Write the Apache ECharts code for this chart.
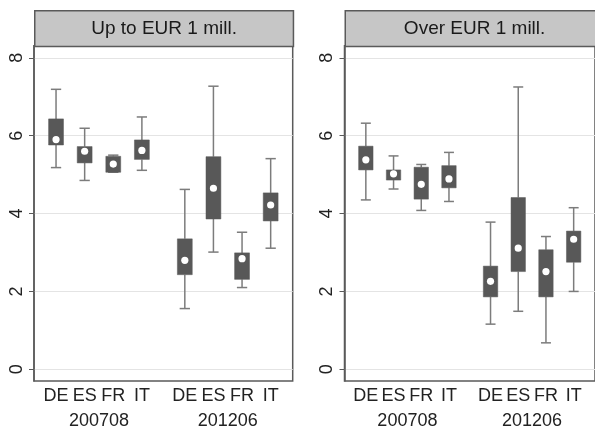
<!DOCTYPE html>
<html>
<head>
<meta charset="utf-8">
<script src="https://cdn.jsdelivr.net/npm/echarts@6/dist/echarts.min.js"></script>
<style>
html,body{margin:0;padding:0;background:#fff;}
#chart{width:595px;height:430px;}
</style>
</head>
<body>
<div id="chart"></div>
<script>
// ---- data ----
const countries = ['DE', 'ES', 'FR', 'IT'];
const periods = ['200708', '201206'];
const panelTitles = ['Up to EUR 1 mill.', 'Over EUR 1 mill.'];
const yTicks = [0, 2, 4, 6, 8];

// order: 200708 DE ES FR IT, 201206 DE ES FR IT
const small_min = [5.18, 4.85, 5.06, 5.11, 1.56, 3.01, 2.10, 3.11];
const small_q1  = [5.76, 5.30, 5.06, 5.39, 2.43, 3.86, 2.31, 3.81];
const small_med = [5.90, 5.60, 5.27, 5.62, 2.80, 4.65, 2.84, 4.22];
const small_q3  = [6.43, 5.72, 5.47, 5.89, 3.35, 5.46, 2.99, 4.53];
const small_max = [7.19, 6.19, 5.50, 6.48, 4.62, 7.27, 3.52, 5.41];

const large_min = [4.35, 4.63, 4.08, 4.31, 1.16, 1.49, 0.68, 2.00];
const large_q1  = [5.12, 4.86, 4.37, 4.66, 1.86, 2.51, 1.86, 2.75];
const large_med = [5.38, 5.02, 4.75, 4.89, 2.26, 3.11, 2.51, 3.34];
const large_q3  = [5.73, 5.12, 5.19, 5.23, 2.65, 4.41, 3.07, 3.55];
const large_max = [6.32, 5.48, 5.26, 5.57, 3.78, 7.25, 3.41, 4.15];

// ---- layout helpers ----
const groupGap = 4.5;
const slotPos = [];
const slotLabel = [];
periods.forEach((p, pi) => countries.forEach((c, ci) => {
  slotPos.push(1 + ci + pi * groupGap);
  slotLabel.push(c);
}));
const periodPos = periods.map((p, pi) => 2.5 + pi * groupGap);

function buildData(mn, q1, md, q3, mx) {
  return slotPos.map((x, i) => [x, mn[i], q1[i], md[i], q3[i], mx[i]]);
}
const panelData = [
  buildData(small_min, small_q1, small_med, small_q3, small_max),
  buildData(large_min, large_q1, large_med, large_q3, large_max)
];

const FONT = '"Liberation Sans", Arial, Helvetica, sans-serif';
const BOX = '#585858';
const WHISK = '#7c7c7c';
const FRAME = '#5a5a5a';

function renderItem(params, api) {
  const x = api.value(0);
  const lo = api.coord([x, api.value(1)]);
  const q1 = api.coord([x, api.value(2)]);
  const md = api.coord([x, api.value(3)]);
  const q3 = api.coord([x, api.value(4)]);
  const hi = api.coord([x, api.value(5)]);
  const bw = api.size([0.52, 0])[0];
  const cw = api.size([0.36, 0])[0];
  const cx = lo[0];
  const ls = {stroke: WHISK, lineWidth: 1.5};
  return {
    type: 'group',
    children: [
      {type: 'line', shape: {x1: cx, y1: hi[1], x2: cx, y2: q3[1]}, style: ls},
      {type: 'line', shape: {x1: cx, y1: q1[1], x2: cx, y2: lo[1]}, style: ls},
      {type: 'line', shape: {x1: cx - cw / 2, y1: hi[1], x2: cx + cw / 2, y2: hi[1]}, style: ls},
      {type: 'line', shape: {x1: cx - cw / 2, y1: lo[1], x2: cx + cw / 2, y2: lo[1]}, style: ls},
      {type: 'rect', shape: {x: cx - bw / 2, y: q3[1], width: bw, height: Math.max(q1[1] - q3[1], 1)},
        style: {fill: BOX, stroke: BOX, lineWidth: 0.5}},
      {type: 'circle', shape: {cx: cx, cy: md[1], r: 3.6}, style: {fill: '#ffffff'}}
    ]
  };
}

const gridW = 258.7;
const gridLefts = [34, 344.5];
const gridTop = 45.7, gridBottomY = 381;
const headerTop = 10;

const grids = [], xAxes = [], yAxes = [], series = [], graphics = [];
gridLefts.forEach((gl, k) => {
  grids.push({left: gl, top: gridTop, width: gridW, height: gridBottomY - gridTop,
    show: true, borderColor: FRAME, borderWidth: 1.5, backgroundColor: '#fff'});
  xAxes.push({
    gridIndex: k, type: 'value', min: 0.23, max: 9.27, position: 'bottom',
    axisLine: {show: false}, axisTick: {show: false}, splitLine: {show: false},
    axisLabel: {
      customValues: slotPos, margin: 6, fontSize: 18, color: '#222', fontFamily: FONT,
      formatter: v => { const i = slotPos.findIndex(p => Math.abs(p - v) < 1e-6); return i >= 0 ? slotLabel[i] : ''; }
    }
  });
  xAxes.push({
    gridIndex: k, type: 'value', min: 0.23, max: 9.27, position: 'bottom',
    axisLine: {show: false}, axisTick: {show: false}, splitLine: {show: false},
    axisLabel: {
      customValues: periodPos, margin: 31, fontSize: 18, color: '#222', fontFamily: FONT,
      formatter: v => { const i = periodPos.findIndex(p => Math.abs(p - v) < 1e-6); return i >= 0 ? periods[i] : ''; }
    }
  });
  yAxes.push({
    gridIndex: k, type: 'value', min: -0.3, max: 8.31,
    axisLine: {show: true, lineStyle: {color: FRAME, width: 1.5}},
    axisTick: {show: true, customValues: yTicks, length: 5, lineStyle: {color: FRAME, width: 1}},
    axisLabel: {customValues: yTicks, rotate: 90, margin: 8, fontSize: 18, color: '#222', fontFamily: FONT},
    splitLine: {show: true, lineStyle: {color: '#e4e4e4', width: 1}}
  });
  series.push({
    type: 'custom', xAxisIndex: k * 2, yAxisIndex: k, renderItem: renderItem,
    data: panelData[k], encode: {x: 0, y: [1, 2, 3, 4, 5]}, silent: true, clip: false
  });
  graphics.push({
    type: 'group', left: gl, top: headerTop,
    children: [
      {type: 'rect', shape: {x: 0, y: 0, width: gridW, height: gridTop - headerTop},
        style: {fill: '#c6c6c6', stroke: FRAME, lineWidth: 1.5}},
      {type: 'text', x: 129.35, y: (gridTop - headerTop) / 2,
        style: {text: panelTitles[k], fontSize: 19, fontFamily: FONT, fill: '#1a1a1a',
          align: 'center', verticalAlign: 'middle'}}
    ]
  });
});

const chart = echarts.init(document.getElementById('chart'), null, {renderer: 'canvas'});
chart.setOption({
  animation: false,
  backgroundColor: '#ffffff',
  grid: grids,
  xAxis: xAxes,
  yAxis: yAxes,
  series: series,
  graphic: graphics
});
</script>
</body>
</html>
